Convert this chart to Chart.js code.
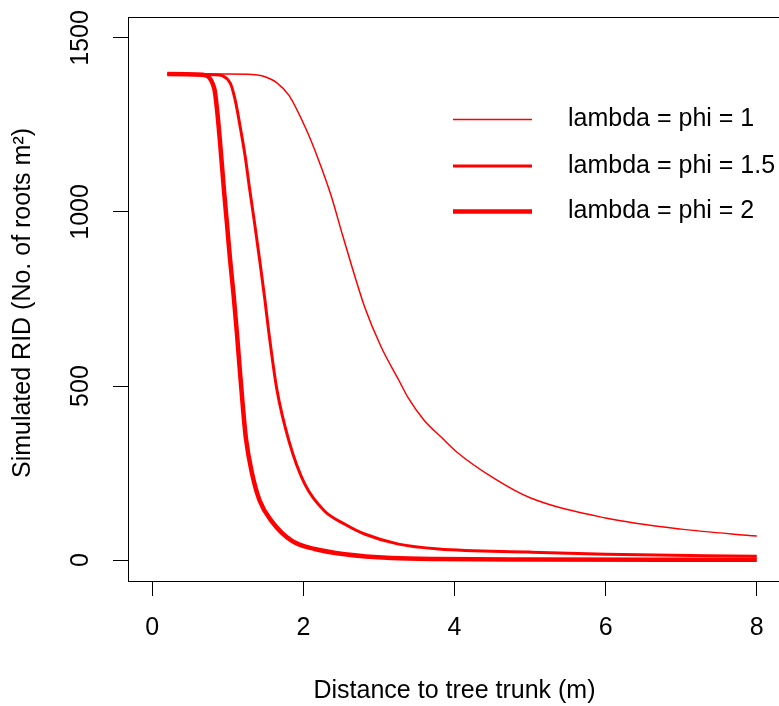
<!DOCTYPE html>
<html lang="en">
<head>
<meta charset="UTF-8">
<title>Simulated RID</title>
<script src="https://cdn.jsdelivr.net/npm/chart.js"></script>
<style>
  html, body { margin: 0; padding: 0; overflow: hidden; background: #fff; }
  #ridChart { display: block; }
</style>
</head>
<body>
<canvas id="ridChart" width="784" height="706"></canvas>
<script>
// distances (m) and simulated RID
const distPhi1 = [0.2, 1.0, 1.32, 1.45, 1.65, 1.81, 2.04, 2.2, 2.37, 2.51, 2.64, 2.81, 3.03, 3.26, 3.39, 3.6, 3.83, 4.05, 4.53, 5.0, 6.0, 7.0, 8.0];
const ridPhi1  = [1396, 1396, 1395, 1391, 1371, 1335, 1236, 1150, 1045, 940, 845, 728, 612, 518, 465, 401, 352, 307, 234, 179, 121, 89, 69];

const distPhi15 = [0.2, 0.83, 1.03, 1.10, 1.16, 1.23, 1.29, 1.36, 1.42, 1.49, 1.54, 1.65, 1.81, 2.02, 2.28, 2.55, 2.81, 3.26, 3.79, 5.0, 6.0, 8.0];
const ridPhi15  = [1396, 1394, 1371, 1320, 1250, 1160, 1065, 960, 865, 750, 660, 490, 342, 218, 141, 103, 75, 46, 32, 23, 17, 11];

const distPhi2 = [0.2, 0.66, 0.82, 0.86, 0.90, 0.95, 0.99, 1.03, 1.08, 1.12, 1.16, 1.20, 1.24, 1.32, 1.42, 1.58, 1.85, 2.15, 2.55, 3.17, 3.79, 5.0, 8.0];
const ridPhi2  = [1396, 1394, 1356, 1290, 1195, 1062, 965, 865, 755, 655, 545, 440, 350, 250, 172, 112, 55, 32, 17, 6, 3, 2, 1];

const seriesLabels = ['lambda = phi = 1', 'lambda = phi = 1.5', 'lambda = phi = 2'];
const xTicks = [0, 2, 4, 6, 8];
const yTicks = [0, 500, 1000, 1500];

const FONT = 'Liberation Sans, Arial, sans-serif';

function toPoints(xs, ys) {
  return xs.map((x, i) => ({x: x, y: ys[i]}));
}

// box around plot, rotated y labels and the legend
const rStyle = {
  id: 'rStyle',
  afterDraw(chart) {
    const ctx = chart.ctx;
    const a = chart.chartArea;
    ctx.save();
    ctx.strokeStyle = '#000';
    ctx.lineWidth = 1;
    ctx.strokeRect(a.left + 0.5, a.top + 0.5, a.right - a.left, a.bottom - a.top);

    // y tick labels, rotated like R
    const ys = chart.scales.y;
    ctx.fillStyle = '#000';
    ctx.font = '25px ' + FONT;
    ctx.textAlign = 'center';
    ctx.textBaseline = 'middle';
    yTicks.forEach(v => {
      ctx.save();
      ctx.translate(81.5, ys.getPixelForValue(v));
      ctx.rotate(-Math.PI / 2);
      ctx.fillText(String(v), 0, 0);
      ctx.restore();
    });

    // y axis title
    ctx.save();
    ctx.translate(23, (a.top + a.bottom) / 2 + 4);
    ctx.rotate(-Math.PI / 2);
    ctx.fillText('Simulated RID (No. of roots m²)', 0, 0);
    ctx.restore();

    // legend
    const rows = [119.5, 166, 211.5];
    chart.data.datasets.forEach((ds, i) => {
      ctx.beginPath();
      ctx.strokeStyle = ds.borderColor;
      ctx.lineWidth = ds.borderWidth;
      ctx.moveTo(453, rows[i]);
      ctx.lineTo(532, rows[i]);
      ctx.stroke();
      ctx.fillStyle = '#000';
      ctx.textAlign = 'left';
      ctx.fillText(ds.label, 568, rows[i]);
    });
    ctx.restore();
  }
};

const ctx = document.getElementById('ridChart').getContext('2d');
new Chart(ctx, {
  type: 'line',
  data: {
    datasets: [{
      label: seriesLabels[0],
      data: toPoints(distPhi1, ridPhi1),
      borderColor: '#ff0000',
      borderWidth: 1.5
    }, {
      label: seriesLabels[1],
      data: toPoints(distPhi15, ridPhi15),
      borderColor: '#ff0000',
      borderWidth: 3
    }, {
      label: seriesLabels[2],
      data: toPoints(distPhi2, ridPhi2),
      borderColor: '#ff0000',
      borderWidth: 4.5
    }]
  },
  options: {
    responsive: false,
    animation: false,
    devicePixelRatio: 1,
    layout: { padding: { top: 17, right: 3, left: 0, bottom: 0 } },
    elements: {
      point: { radius: 0 },
      line: { cubicInterpolationMode: 'monotone', fill: false }
    },
    plugins: {
      legend: { display: false },
      tooltip: { enabled: false }
    },
    scales: {
      x: {
        type: 'linear',
        min: -0.32,
        max: 8.32,
        afterFit: s => { s.height = 125; },
        afterBuildTicks: s => { s.ticks = xTicks.map(v => ({value: v})); },
        ticks: { color: '#000', font: { family: FONT, size: 25 }, padding: 17, maxRotation: 0 },
        grid: { drawOnChartArea: false, drawTicks: true, tickLength: 15, color: '#000', lineWidth: 1 },
        border: { display: true, color: '#000', width: 1 },
        title: {
          display: true,
          text: 'Distance to tree trunk (m)',
          color: '#000',
          font: { family: FONT, size: 25 },
          padding: { top: 0, bottom: 0 }
        }
      },
      y: {
        type: 'linear',
        min: -60,
        max: 1560,
        afterFit: s => { s.width = 128; },
        afterBuildTicks: s => { s.ticks = yTicks.map(v => ({value: v})); },
        ticks: { display: false },
        grid: { drawOnChartArea: false, drawTicks: true, tickLength: 15, color: '#000', lineWidth: 1 },
        border: { display: true, color: '#000', width: 1 }
      }
    }
  },
  plugins: [rStyle]
});
</script>
</body>
</html>
